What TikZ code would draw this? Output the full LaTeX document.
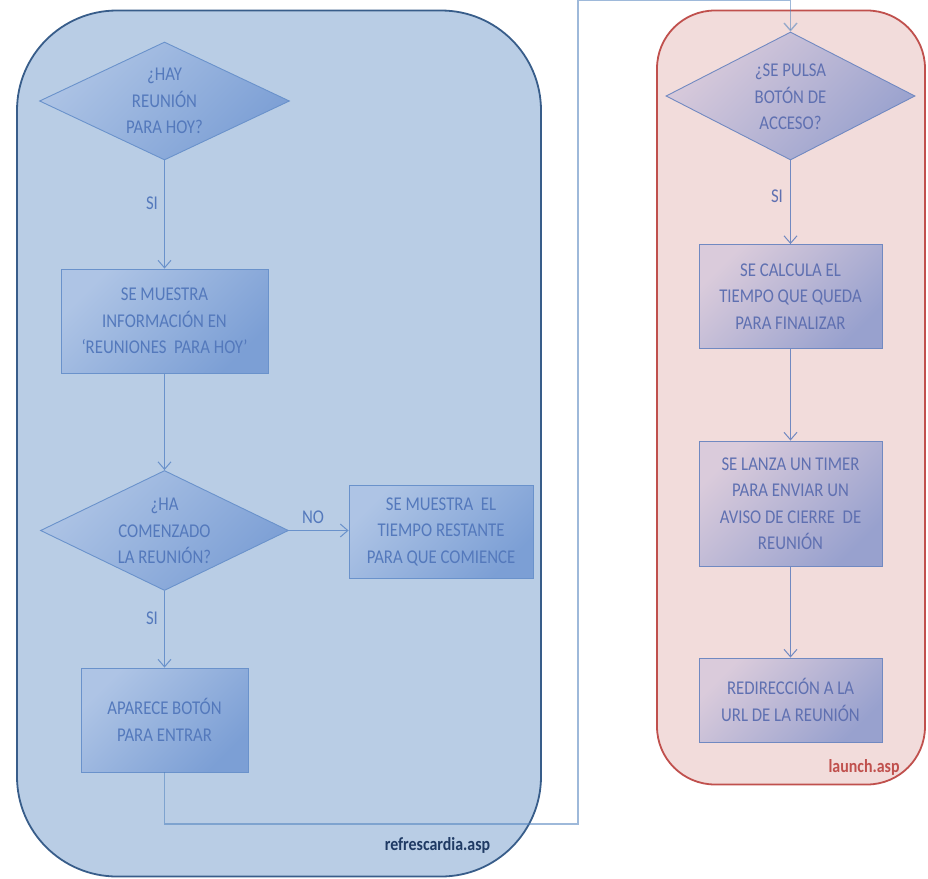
\documentclass[tikz,border=0pt]{standalone}
\usepackage{fontspec}
\setmainfont{Carlito}[FakeStretch=0.86]
\usetikzlibrary{shapes.geometric,arrows.meta}
\definecolor{bluefill}{HTML}{B9CDE5}
\definecolor{blueborder}{HTML}{385D8A}
\definecolor{redfill}{HTML}{F2DCDB}
\definecolor{redborder}{HTML}{C0504D}
\definecolor{bshapeA}{HTML}{AEC4E5}
\definecolor{bshapeB}{HTML}{7C9FD5}
\definecolor{bshapeline}{HTML}{6A92CB}
\definecolor{btext}{HTML}{5479BC}
\definecolor{rshapeA}{HTML}{DACBDB}
\definecolor{rshapeB}{HTML}{98A1CE}
\definecolor{rshapeline}{HTML}{7189C1}
\definecolor{rtext}{HTML}{5F70B1}
\definecolor{loopcol}{HTML}{4F81BD}
\definecolor{navy}{HTML}{1F3A64}
\begin{document}
\begin{tikzpicture}[x=1pt,y=-1pt,
  txt/.style={font=\fontsize{19.5}{26.5}\selectfont, align=center, inner sep=0pt},
  bshape/.style={draw=bshapeline, line width=0.9pt, top color=bshapeA, bottom color=bshapeB, shading angle=45, text=btext, txt},
  rshape/.style={draw=rshapeline, line width=0.9pt, top color=rshapeA, bottom color=rshapeB, shading angle=45, text=rtext, txt},
  bbox/.style={bshape, rectangle, minimum width=#1},
  rbox/.style={rshape, rectangle, minimum width=#1},
  bdia/.style={bshape, diamond, inner sep=0pt},
  rdia/.style={rshape, diamond, inner sep=0pt},
  barrow/.style={draw=bshapeline, line width=1pt, -{Straight Barb[length=7.5pt,width=13pt]}},
  rarrow/.style={draw=rshapeline, line width=1pt, -{Straight Barb[length=7.5pt,width=13pt]}},
  blbl/.style={txt, text=btext},
  rlbl/.style={txt, text=rtext},
  looppath/.style={draw=loopcol, draw opacity=0.55, line width=1.4pt, -{Straight Barb[length=7.5pt,width=13pt]}}
]
\useasboundingbox (0,0) rectangle (928,878);
\fill[white] (0,0) rectangle (928,878);

% containers
\node[draw=blueborder, fill=bluefill, line width=1.8pt, rounded corners=100pt,
      minimum width=524pt, minimum height=866pt, inner sep=0pt] (cblue) at (279,443.5) {};
\node[draw=redborder, fill=redfill, line width=1.8pt, rounded corners=58pt,
      minimum width=268pt, minimum height=774pt, inner sep=0pt] (cred) at (791,397.5) {};

% left flow
\node[bdia, minimum width=250pt, minimum height=118pt] (d1) at (164.5,101) {};
\node[blbl] (d1t) at (164.5,101) {¿HAY\\REUNIÓN\\PARA HOY?};
\node[bbox=207pt, minimum height=104pt] (b1) at (164.5,321) {SE MUESTRA\\INFORMACIÓN EN\\‘REUNIONES\ \ PARA HOY’};
\node[bdia, minimum width=248pt, minimum height=120pt] (d2) at (164.5,530.5) {};
\node[blbl] (d2t) at (164.5,531) {¿HA\\COMENZADO\\LA REUNIÓN?};
\node[bbox=184pt, minimum height=93pt] (bno) at (441,531.5) {SE MUESTRA\ \ EL\\TIEMPO RESTANTE\\PARA QUE COMIENCE};
\node[bbox=167pt, minimum height=104pt] (b3) at (164.5,720) {APARECE BOTÓN\\PARA ENTRAR};

% right flow
\node[rdia, minimum width=249pt, minimum height=128pt] (d3) at (790.5,96) {};
\node[rlbl] (d3t) at (790.5,97) {¿SE PULSA\\BOTÓN DE\\ACCESO?};
\node[rbox=183pt, minimum height=104pt] (b4) at (790.5,296.5) {SE CALCULA EL\\TIEMPO QUE QUEDA\\PARA FINALIZAR};
\node[rbox=183pt, minimum height=125pt] (b5) at (790.5,503.5) {SE LANZA UN TIMER\\PARA ENVIAR UN\\AVISO DE CIERRE\ \ DE\\REUNIÓN};
\node[rbox=183pt, minimum height=84pt] (b6) at (790.5,700) {REDIRECCIÓN A LA\\URL DE LA REUNIÓN};

% connectors
\draw[barrow] (d1) -- (b1);
\draw[barrow] (b1) -- (d2);
\draw[barrow] (d2.east) -- (d2.east -| bno.west);
\draw[barrow] (d2) -- (b3);
\draw[rarrow] (d3) -- (b4);
\draw[rarrow] (b4) -- (b5);
\draw[rarrow] (b5) -- (b6);

\coordinate (lp1) at (164.5,824);
\coordinate (lp2) at (578,824);
\coordinate (lp3) at (578,0.6);
\draw[looppath] (b3.south) -- (lp1) -- (lp2) -- (lp3) -| (d3.north);

% labels
\node[blbl] (si1) at (152,203) {SI};
\node[blbl] (si2) at (152,618) {SI};
\node[blbl] (no1) at (313,517) {NO};
\node[rlbl] (si3) at (777,196) {SI};
\node[txt, font=\fontsize{18.5}{22}\selectfont\bfseries, text=navy] (lblue) at (437.5,845) {refrescardia.asp};
\node[txt, font=\fontsize{18.5}{22}\selectfont\bfseries, text=redborder] (lred) at (864,767) {launch.asp};
\end{tikzpicture}
\end{document}
